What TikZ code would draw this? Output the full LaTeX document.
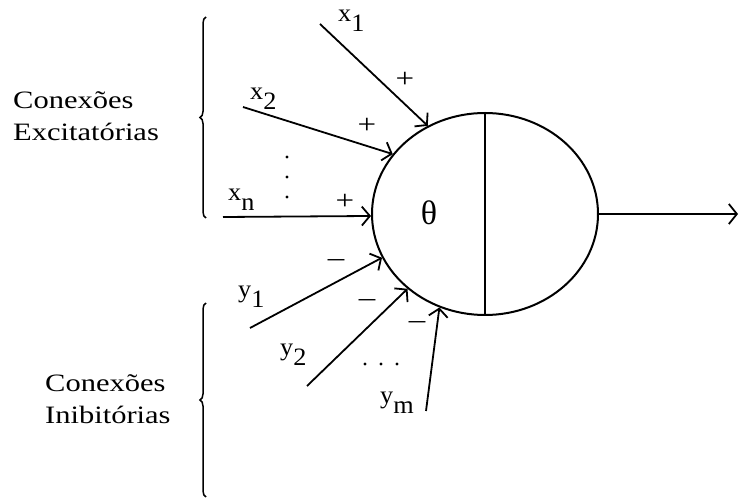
\documentclass[tikz,border=0pt]{standalone}
\usepackage{fontspec}
\setmainfont{Liberation Serif}
\newfontfamily\widefont[FakeStretch=1.22]{Liberation Serif}
\newfontfamily\lblfont[FakeStretch=1.05]{Liberation Serif}
\usetikzlibrary{shapes.geometric, arrows.meta, decorations.pathreplacing}

% input label with a lowered index
\newcommand{\inp}[2]{#1\raisebox{-10pt}{#2}}

\begin{document}
\begin{tikzpicture}[x=1pt, y=-1pt,
    neuron/.style={ellipse, draw, line width=2pt,
                   minimum width=226pt, minimum height=202pt, inner sep=0pt},
    inarrow/.style={-{Straight Barb[length=8pt, width=19pt]}, line width=1.8pt},
    outarrow/.style={-{Straight Barb[length=8pt, width=20pt]}, line width=1.8pt},
    lbl/.style={anchor=base west, inner sep=0pt,
                font=\lblfont\fontsize{25}{25}\selectfont},
    sign/.style={inner sep=0pt, font=\widefont\fontsize{27}{27}\selectfont},
    group/.style={anchor=west, align=left, inner sep=0pt,
                  font=\widefont\fontsize{25}{32}\selectfont},
    bracket/.style={decorate, decoration={brace, amplitude=6pt}, line width=1.5pt}]
  \useasboundingbox (0,0) rectangle (739,502);

  % the neuron
  \node[neuron] (neuron) at (485,214) {};
  \draw[line width=2pt] (neuron.north) -- (neuron.south);
  \node[font=\fontsize{34}{34}\selectfont] (theta) at (429,213) {θ};
  \coordinate (out) at (738,214);
  \draw[outarrow] (neuron.east) -- (out);

  % excitatory inputs
  \coordinate (x1) at (320,24);
  \coordinate (x2) at (243,107);
  \coordinate (xn) at (223,217);
  \draw[inarrow] (x1) -- (neuron.123);
  \draw[inarrow] (x2) -- (neuron.147);
  \draw[inarrow] (xn) -- (neuron.181);
  \node[lbl] (lx1) at (338,22) {\inp{x}{1}};
  \node[lbl] (lx2) at (250,100) {\inp{x}{2}};
  \node[lbl] (lxn) at (228,201) {\inp{x}{n}};
  \node[sign] (sx1) at (405,80) {+};
  \node[sign] (sx2) at (367,126) {+};
  \node[sign] (sxn) at (345,202) {+};
  \fill (287,157) circle (1.6) (287,177) circle (1.6) (287,197) circle (1.6);

  % inhibitory inputs
  \coordinate (y1) at (250,328);
  \coordinate (y2) at (307,386);
  \coordinate (ym) at (426,411);
  \draw[inarrow] (y1) -- (neuron.203);
  \draw[inarrow] (y2) -- (neuron.224);
  \draw[inarrow] (ym) -- (neuron.244);
  \node[lbl] (ly1) at (238,298) {\inp{y}{1}};
  \node[lbl] (ly2) at (280,356) {\inp{y}{2}};
  \node[lbl] (lym) at (380,403) {\inp{y}{m}};
  \node[sign] (sy1) at (336,263) {–};
  \node[sign] (sy2) at (367,303) {–};
  \node[sign] (sym) at (417,325) {–};
  \fill (365,364) circle (1.6) (381,364) circle (1.6) (397,364) circle (1.6);

  % groups
  \draw[bracket] (206,218) -- (206,17);
  \draw[bracket] (206,497) -- (206,303);
  \node[group] (exc) at (13,116) {Conexões\\Excitatórias};
  \node[group] (inh) at (45,399) {Conexões\\Inibitórias};
\end{tikzpicture}
\end{document}
